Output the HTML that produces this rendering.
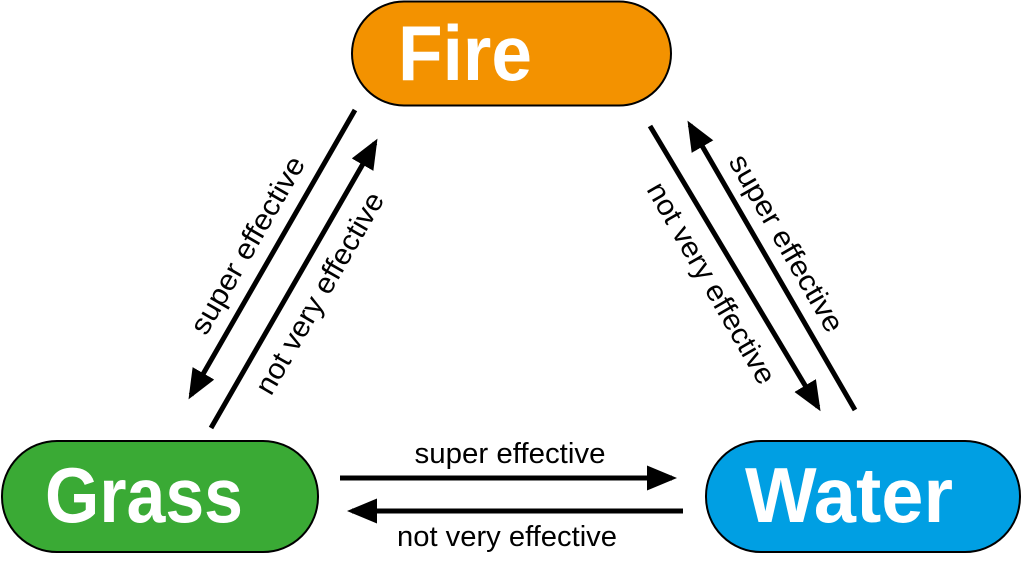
<!DOCTYPE html>
<html><head><style>body{margin:0;background:#fff}</style></head><body>
<svg width="1023" height="557" viewBox="0 0 1023 557" xmlns="http://www.w3.org/2000/svg" font-family="Liberation Sans, sans-serif">
<defs><marker id="a" markerWidth="6" markerHeight="5" refX="5" refY="2.5" orient="auto"><path d="M0,0 L6,2.5 L0,5 z" fill="#000"/></marker></defs>
<rect x="352" y="1.5" width="319" height="104" rx="52" fill="#f39200" stroke="#000" stroke-width="2"/>
<text x="465" y="80" font-size="78" font-weight="bold" fill="#fff" text-anchor="middle" textLength="134" lengthAdjust="spacingAndGlyphs">Fire</text>
<rect x="2" y="441" width="316" height="111" rx="55" fill="#3aaa35" stroke="#000" stroke-width="2"/>
<text x="144" y="522" font-size="78" font-weight="bold" fill="#fff" text-anchor="middle" textLength="198" lengthAdjust="spacingAndGlyphs">Grass</text>
<rect x="706" y="441" width="314" height="111" rx="55" fill="#009fe3" stroke="#000" stroke-width="2"/>
<text x="849" y="522" font-size="78" font-weight="bold" fill="#fff" text-anchor="middle" textLength="208" lengthAdjust="spacingAndGlyphs">Water</text>
<g stroke="#000" stroke-width="5" marker-end="url(#a)">
<line x1="340" y1="478" x2="672" y2="478"/>
<line x1="683" y1="511" x2="352" y2="511"/>
<line x1="355" y1="110" x2="191" y2="395"/>
<line x1="211" y1="428" x2="375" y2="143"/>
<line x1="650" y1="126" x2="818" y2="407"/>
<line x1="855" y1="410" x2="690" y2="125"/>
</g>
<g font-size="29" text-anchor="middle" fill="#000">
<text x="510" y="463" textLength="191" lengthAdjust="spacingAndGlyphs">super effective</text>
<text x="507" y="546" textLength="220" lengthAdjust="spacingAndGlyphs">not very effective</text>
<text transform="translate(256,250) rotate(-60)" textLength="200" lengthAdjust="spacingAndGlyphs">super effective</text>
<text transform="translate(328,298) rotate(-60)" textLength="228" lengthAdjust="spacingAndGlyphs">not very effective</text>
<text transform="translate(703,288) rotate(60)" textLength="228" lengthAdjust="spacingAndGlyphs">not very effective</text>
<text transform="translate(778,248) rotate(60)" textLength="200" lengthAdjust="spacingAndGlyphs">super effective</text>
</g>
</svg>
</body></html>
